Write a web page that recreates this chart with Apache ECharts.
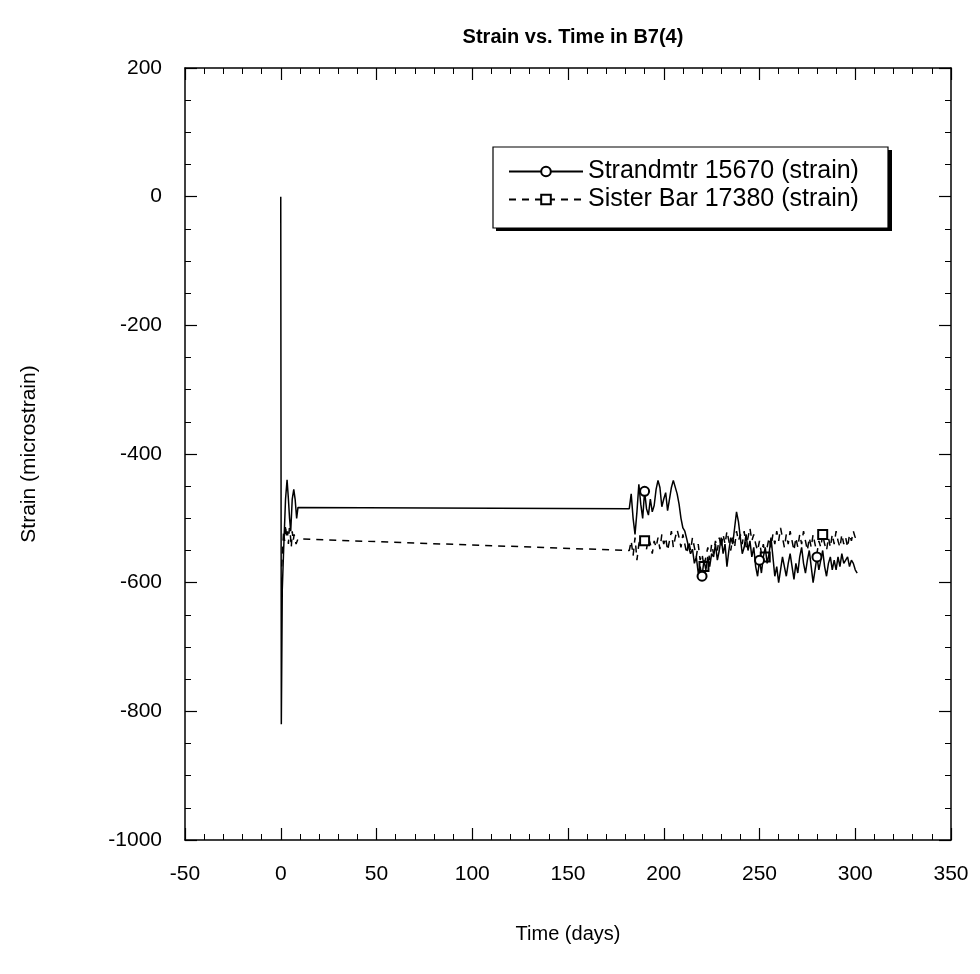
<!DOCTYPE html>
<html>
<head>
<meta charset="utf-8">
<script src="https://cdn.jsdelivr.net/npm/echarts@6/dist/echarts.min.js"></script>
<style>html,body{margin:0;padding:0;background:#fff;}#c{width:980px;height:974px;}</style>
</head>
<body>
<div id="c"></div>
<script>
// ---- data ----
const strandDays = [0,0.3,0.8,1.5,2.5,3.3,4,4.6,5.2,6,6.8,7.5,8.3,9,
  182,183,184,185,186,187,188,189,190,191,192,193,194,195,196,197,198,199,200,201,202,203,204,205,206,207,208,209,210,
  211,212,213,214,215,216,217,218,219,220,221,222,223,224,225,226,227,228,229,230,231,232,233,234,235,236,237,238,239,240,
  241,242,243,244,245,246,247,248,249,250,251,252,253,254,255,256,257,258,259,260,261,262,263,264,265,266,267,268,269,270,
  271,272,273,274,275,276,277,278,279,280,281,282,283,284,285,286,287,288,289,290,291,292,293,294,295,296,297,298,299,300,301];
const strandValues = [0,-820,-610,-550,-470,-440,-470,-500,-520,-470,-455,-470,-500,-483,
  -485,-462,-500,-525,-490,-447,-478,-500,-458,-485,-495,-470,-490,-480,-455,-441,-452,-482,-470,-460,-488,-470,-452,-441,-444,-462,-478,-500,-515,
  -520,-532,-545,-555,-548,-570,-560,-585,-575,-590,-565,-580,-560,-575,-555,-560,-540,-565,-550,-530,-555,-540,-575,-550,-530,-540,-515,-490,-505,-530,
  -555,-545,-525,-550,-535,-560,-545,-575,-590,-565,-585,-560,-545,-570,-555,-530,-560,-590,-575,-600,-580,-560,-575,-590,-570,-555,-575,-595,-570,-585,
  -560,-545,-570,-585,-565,-550,-575,-600,-580,-560,-580,-565,-550,-575,-590,-570,-560,-580,-565,-580,-560,-575,-555,-570,-565,-560,-575,-565,-570,-580,-585];
const sisterDays = [0.5,1,1.5,2,2.5,3,3.5,4,4.5,5,5.5,6,6.5,7,8,9,
  182,183,184,185,186,187,188,189,190,191,192,193,194,195,196,197,198,199,200,201,202,203,204,205,206,207,208,209,210,
  211,212,213,214,215,216,217,218,219,220,221,222,223,224,225,226,227,228,229,230,231,232,233,234,235,236,237,238,239,240,
  241,242,243,244,245,246,247,248,249,250,251,252,253,254,255,256,257,258,259,260,261,262,263,264,265,266,267,268,269,270,
  271,272,273,274,275,276,277,278,279,280,281,282,283,284,285,286,287,288,289,290,291,292,293,294,295,296,297,298,299,300,301];
const sisterValues = [-575,-545,-520,-535,-510,-530,-520,-540,-515,-525,-545,-520,-535,-525,-540,-532,
  -550,-535,-558,-530,-565,-540,-528,-545,-535,-548,-530,-540,-555,-535,-545,-530,-548,-525,-540,-530,-550,-535,-520,-545,-530,-518,-530,-545,-525,
  -540,-555,-535,-550,-530,-545,-560,-540,-565,-555,-575,-560,-545,-565,-540,-555,-535,-550,-530,-545,-525,-540,-520,-535,-550,-530,-545,-520,-535,-525,
  -540,-520,-545,-530,-515,-535,-525,-540,-550,-535,-555,-540,-560,-545,-530,-545,-525,-540,-520,-535,-515,-530,-545,-525,-540,-520,-535,-550,-530,-545,
  -525,-540,-520,-535,-550,-530,-545,-525,-540,-555,-535,-545,-525,-540,-550,-530,-545,-525,-540,-520,-535,-545,-525,-540,-530,-545,-525,-535,-520,-530,-522];
const strandMarkerDays = [190, 220, 250, 280];
const sisterMarkerDays = [190, 221, 253, 283];
const xTicks = [-50, 0, 50, 100, 150, 200, 250, 300, 350];
const yTicks = [-1000, -800, -600, -400, -200, 0, 200];
const seriesNames = ['Strandmtr 15670 (strain)', 'Sister Bar 17380 (strain)'];

function build(days, vals, markDays, sym) {
  return days.map((d, i) => {
    const item = { value: [d, vals[i]] };
    if (markDays.indexOf(d) >= 0) { item.symbol = sym; item.symbolSize = 9; }
    return item;
  });
}

const FONT = 'Liberation Sans, Arial, sans-serif';
const chart = echarts.init(document.getElementById('c'), null, { renderer: 'canvas' });

const baseX = {
  type: 'value', min: xTicks[0], max: xTicks[xTicks.length - 1], interval: 50,
  axisLine: { show: true, onZero: false, lineStyle: { color: '#000', width: 1.5 } },
  axisTick: { show: true, inside: true, length: 12, lineStyle: { color: '#000', width: 1.2 } },
  minorTick: { show: true, splitNumber: 5, length: 6, lineStyle: { color: '#000', width: 1 } },
  splitLine: { show: false }
};
const baseY = {
  type: 'value', min: yTicks[0], max: yTicks[yTicks.length - 1], interval: 200,
  axisLine: { show: true, onZero: false, lineStyle: { color: '#000', width: 1.5 } },
  axisTick: { show: true, inside: true, length: 12, lineStyle: { color: '#000', width: 1.2 } },
  minorTick: { show: true, splitNumber: 4, length: 6, lineStyle: { color: '#000', width: 1 } },
  splitLine: { show: false }
};

chart.setOption({
  animation: false,
  backgroundColor: '#fff',
  title: {
    text: 'Strain vs. Time in B7(4)', left: 568, top: 22, textAlign: 'center',
    textStyle: { fontFamily: FONT, fontSize: 20, fontWeight: 'bold', color: '#000' }
  },
  grid: { left: 185, right: 29, top: 68, bottom: 134, containLabel: false },
  graphic: [
    { type: 'rect', z: 1, shape: { x: 496, y: 150, width: 396, height: 81 }, style: { fill: '#000' } },
    { type: 'rect', z: 2, shape: { x: 493, y: 147, width: 395, height: 81 }, style: { fill: '#fff', stroke: '#000', lineWidth: 1.2 } }
  ],
  legend: {
    orient: 'vertical', left: 493, top: 147, z: 10,
    data: seriesNames,
    itemWidth: 74, itemHeight: 12, itemGap: 3,
    padding: [12, 0, 0, 15],
    textStyle: { fontFamily: FONT, fontSize: 25, color: '#000' }
  },
  xAxis: [
    Object.assign({}, baseX, {
      position: 'bottom', name: 'Time (days)', nameLocation: 'middle', nameGap: 84,
      nameTextStyle: { fontFamily: FONT, fontSize: 20, color: '#000' },
      axisLabel: { show: true, margin: 24, fontFamily: FONT, fontSize: 21, color: '#000' }
    }),
    Object.assign({}, baseX, { position: 'top', axisLabel: { show: false } })
  ],
  yAxis: [
    Object.assign({}, baseY, {
      position: 'left', name: 'Strain (microstrain)', nameLocation: 'middle', nameGap: 145,
      nameTextStyle: { fontFamily: FONT, fontSize: 21, color: '#000' },
      axisLabel: { show: true, margin: 23, fontFamily: FONT, fontSize: 21, color: '#000', formatter: v => String(v) }
    }),
    Object.assign({}, baseY, { position: 'right', axisLabel: { show: false } })
  ],
  series: [
    {
      name: seriesNames[0], type: 'line', xAxisIndex: 0, yAxisIndex: 0,
      data: build(strandDays, strandValues, strandMarkerDays, 'emptyCircle'),
      symbol: 'emptyCircle', symbolSize: 0, showSymbol: true,
      lineStyle: { color: '#000', width: 1.5 },
      itemStyle: { color: '#000', borderColor: '#000', borderWidth: 1.2 },
      z: 3
    },
    {
      name: seriesNames[1], type: 'line', xAxisIndex: 0, yAxisIndex: 0,
      data: build(sisterDays, sisterValues, sisterMarkerDays, 'emptyRect'),
      symbol: 'emptyRect', symbolSize: 0, showSymbol: true,
      lineStyle: { color: '#000', width: 1.5, type: [7, 6] },
      itemStyle: { color: '#000', borderColor: '#000', borderWidth: 1.2 },
      z: 2
    }
  ]
});
</script>
</body>
</html>
